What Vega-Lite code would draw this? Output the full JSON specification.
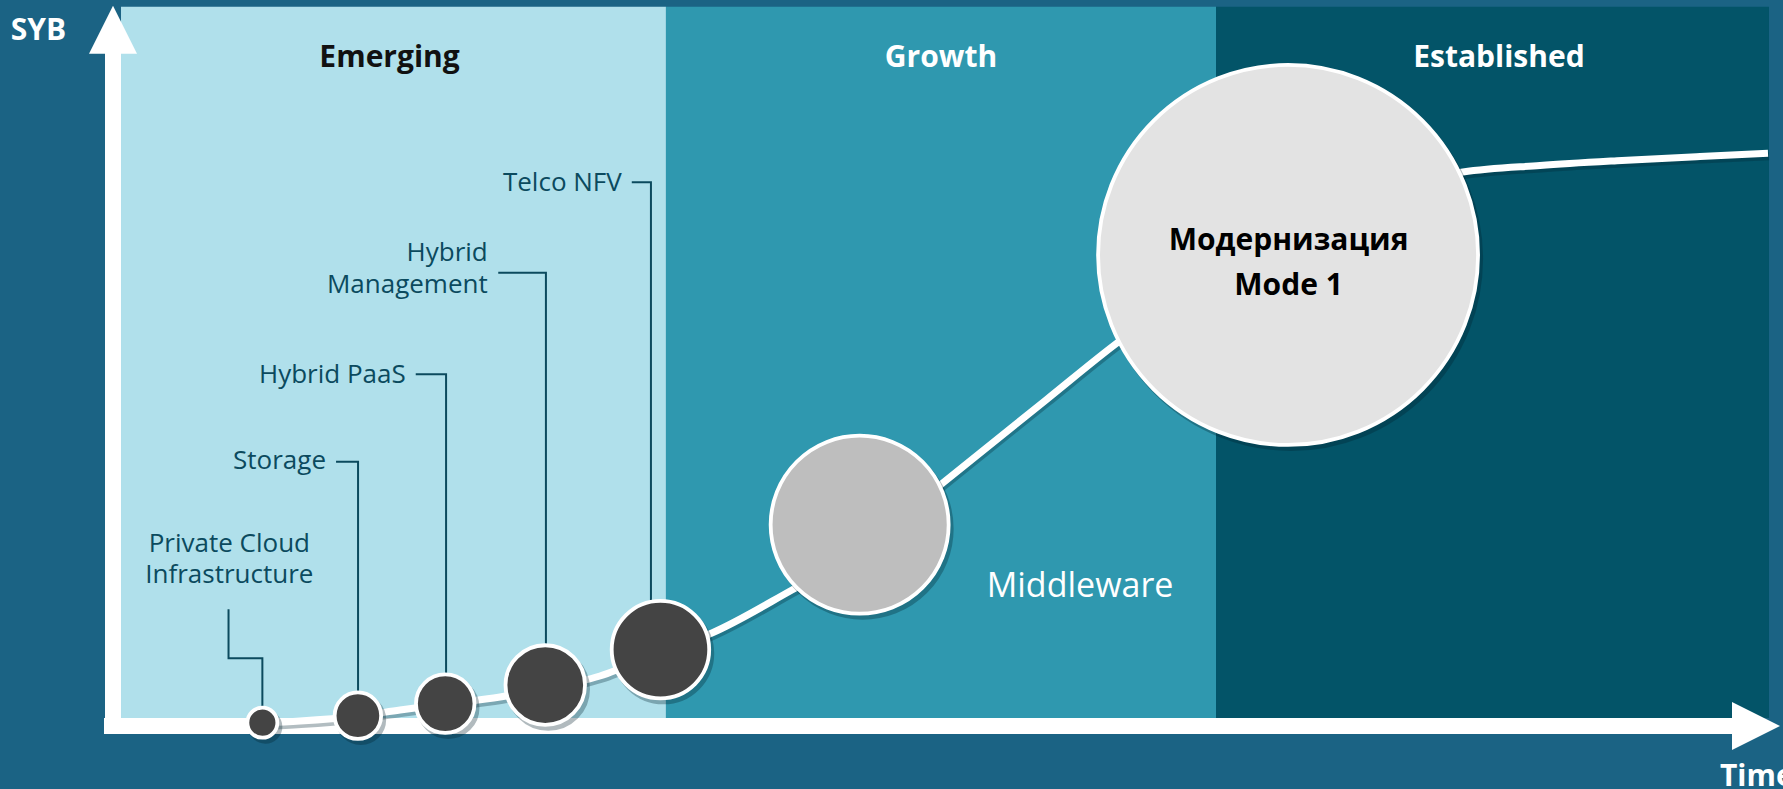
{
  "$schema": "https://vega.github.io/schema/vega-lite/v6.json",
  "width": 1783,
  "height": 789,
  "autosize": {"type": "none"},
  "padding": 0,
  "background": "#1b6384",
  "config": {"view": {"stroke": null}, "font": "Open Sans"},
  "datasets": {
    "panels": [
      {"stage": "Emerging", "t": 0.48, "t2": 33.17, "v": 99.9, "v2": 1.11},
      {"stage": "Growth", "t": 33.17, "t2": 66.17, "v": 99.9, "v2": 1.11},
      {"stage": "Established", "t": 66.17, "t2": 99.34, "v": 99.9, "v2": 1.11}
    ],
    "shafts": [
      {"axis": "SYB", "t": -0.48, "t2": 0.48, "v": 93.6, "v2": -1.11},
      {"axis": "Time", "t": -0.54, "t2": 97.3, "v": 1.11, "v2": -1.11}
    ],
    "arrows": [
      {"axis": "SYB", "t": 0, "v": 96.71},
      {"axis": "Time", "t": 98.56, "v": 0}
    ],
    "curve": [
      {"t": 8.94, "v": 0.42},
      {"t": 11.22, "v": 0.69},
      {"t": 14.7, "v": 1.39},
      {"t": 17.22, "v": 2.22},
      {"t": 19.92, "v": 3.06},
      {"t": 23.22, "v": 4.03},
      {"t": 25.92, "v": 5.14},
      {"t": 29.21, "v": 6.94},
      {"t": 32.87, "v": 10.28},
      {"t": 35.93, "v": 12.92},
      {"t": 40.73, "v": 18.89},
      {"t": 44.81, "v": 24.31},
      {"t": 49.85, "v": 33.89},
      {"t": 55.97, "v": 45.28},
      {"t": 60.23, "v": 53.19},
      {"t": 65.21, "v": 61.25},
      {"t": 70.61, "v": 69.58},
      {"t": 76.0, "v": 74.44},
      {"t": 80.98, "v": 76.94},
      {"t": 85.6, "v": 77.85},
      {"t": 90.22, "v": 78.51},
      {"t": 95.2, "v": 79.1},
      {"t": 99.28, "v": 79.54}
    ],
    "connectors": [
      {"id": "Private Cloud Infrastructure", "k": 0, "t": 6.93, "v": 16.21},
      {"id": "Private Cloud Infrastructure", "k": 1, "t": 6.93, "v": 9.4},
      {"id": "Private Cloud Infrastructure", "k": 2, "t": 8.96, "v": 9.4},
      {"id": "Private Cloud Infrastructure", "k": 3, "t": 8.96, "v": 2.78},
      {"id": "Storage", "k": 0, "t": 13.38, "v": 36.71},
      {"id": "Storage", "k": 1, "t": 14.7, "v": 36.71},
      {"id": "Storage", "k": 2, "t": 14.7, "v": 4.86},
      {"id": "Hybrid PaaS", "k": 0, "t": 18.16, "v": 48.85},
      {"id": "Hybrid PaaS", "k": 1, "t": 19.98, "v": 48.85},
      {"id": "Hybrid PaaS", "k": 2, "t": 19.98, "v": 7.36},
      {"id": "Hybrid Management", "k": 0, "t": 23.11, "v": 62.96},
      {"id": "Hybrid Management", "k": 1, "t": 25.97, "v": 62.96},
      {"id": "Hybrid Management", "k": 2, "t": 25.97, "v": 11.39},
      {"id": "Telco NFV", "k": 0, "t": 31.12, "v": 75.51},
      {"id": "Telco NFV", "k": 1, "t": 32.27, "v": 75.51},
      {"id": "Telco NFV", "k": 2, "t": 32.27, "v": 17.5}
    ],
    "bubbles": [
      {"name": "Private Cloud Infrastructure", "cat": "emerging", "t": 8.96, "v": 0.46, "d": 30},
      {"name": "Storage", "cat": "emerging", "t": 14.69, "v": 1.43, "d": 46.5},
      {"name": "Hybrid PaaS", "cat": "emerging", "t": 19.93, "v": 3.1, "d": 58.5},
      {"name": "Hybrid Management", "cat": "emerging", "t": 25.93, "v": 5.69, "d": 79.5},
      {"name": "Telco NFV", "cat": "emerging", "t": 32.84, "v": 10.61, "d": 97.5},
      {"name": "Middleware", "cat": "middleware", "t": 44.79, "v": 27.96, "d": 178},
      {"name": "Модернизация Mode 1", "cat": "modernization", "t": 70.49, "v": 65.42, "d": 380}
    ],
    "texts": [
      {"kind": "label", "label": "Telco NFV", "t": 30.52, "v": 74.35},
      {"kind": "label", "label": "Hybrid\nManagement", "t": 22.48, "v": 64.63},
      {"kind": "label", "label": "Hybrid PaaS", "t": 17.56, "v": 47.6},
      {"kind": "label", "label": "Storage", "t": 12.78, "v": 35.65},
      {"kind": "labelc", "label": "Private Cloud\nInfrastructure", "t": 6.98, "v": 24.13},
      {"kind": "title", "label": "Emerging", "t": 16.59, "v": 91.46},
      {"kind": "title", "label": "Growth", "t": 49.67, "v": 91.46},
      {"kind": "title", "label": "Established", "t": 83.14, "v": 91.46},
      {"kind": "axis", "label": "SYB", "t": -6.14, "v": 95.28},
      {"kind": "axis", "label": "Time", "t": 96.4, "v": -8.33},
      {"kind": "middleware", "label": "Middleware", "t": 58.01, "v": 17.92},
      {"kind": "mod", "label": "Модернизация\nMode 1", "t": 70.52, "v": 66.11}
    ]
  },
  "encoding": {
    "x": {"field": "t", "type": "quantitative", "scale": {"domain": [-6.779, 100.18], "nice": false, "zero": false}, "axis": null},
    "y": {"field": "v", "type": "quantitative", "scale": {"domain": [-8.75, 100.83], "nice": false, "zero": false}, "axis": null}
  },
  "layer": [
    {
      "data": {"name": "panels"},
      "mark": {"type": "rect"},
      "encoding": {
        "x2": {"field": "t2"},
        "y2": {"field": "v2"},
        "color": {"field": "stage", "type": "nominal", "scale": {"domain": ["Emerging", "Growth", "Established"], "range": ["#b0e0eb", "#2f98af", "#035468"]}, "legend": null}
      }
    },
    {
      "data": {"name": "shafts"},
      "mark": {"type": "rect", "color": "#ffffff"},
      "encoding": {"x2": {"field": "t2"}, "y2": {"field": "v2"}}
    },
    {
      "data": {"name": "arrows"},
      "transform": [{"filter": "datum.axis === 'SYB'"}],
      "mark": {"type": "point", "shape": "M0,-1L1,1L-1,1Z", "filled": true, "color": "#ffffff", "opacity": 1, "size": 2304, "strokeWidth": 0}
    },
    {
      "data": {"name": "arrows"},
      "transform": [{"filter": "datum.axis === 'Time'"}],
      "mark": {"type": "point", "shape": "M1,0L-1,-1L-1,1Z", "filled": true, "color": "#ffffff", "opacity": 1, "size": 2304, "strokeWidth": 0}
    },
    {
      "data": {"name": "curve"},
      "mark": {"type": "line", "color": "#002633", "strokeWidth": 8, "opacity": 0.3, "interpolate": "monotone", "xOffset": 1, "yOffset": 3}
    },
    {
      "data": {"name": "curve"},
      "mark": {"type": "line", "color": "#ffffff", "strokeWidth": 7, "interpolate": "monotone", "strokeCap": "butt"}
    },
    {
      "data": {"name": "connectors"},
      "mark": {"type": "line", "color": "#0b4a5e", "strokeWidth": 2, "interpolate": "linear"},
      "encoding": {
        "detail": {"field": "id", "type": "nominal"},
        "order": {"field": "k", "type": "quantitative"}
      }
    },
    {
      "data": {"name": "bubbles"},
      "mark": {"type": "circle", "color": "#001f2a", "opacity": 0.3, "stroke": "#001f2a", "strokeWidth": 4, "xOffset": 3, "yOffset": 4},
      "encoding": {
        "size": {"field": "d", "type": "quantitative", "scale": {"type": "pow", "exponent": 2, "domain": [0, 400], "range": [0, 160000]}, "legend": null}
      }
    },
    {
      "data": {"name": "bubbles"},
      "mark": {"type": "circle", "opacity": 1, "stroke": "#ffffff", "strokeWidth": 3.8},
      "encoding": {
        "size": {"field": "d", "type": "quantitative", "scale": {"type": "pow", "exponent": 2, "domain": [0, 400], "range": [0, 160000]}, "legend": null},
        "color": {"field": "cat", "type": "nominal", "scale": {"domain": ["emerging", "middleware", "modernization"], "range": ["#444444", "#bebebe", "#e3e3e3"]}, "legend": null}
      }
    },
    {
      "data": {"name": "texts"},
      "transform": [{"filter": "datum.kind === 'label'"}],
      "mark": {"type": "text", "align": "right", "baseline": "alphabetic", "fontSize": 26, "color": "#0b4a5e", "lineBreak": "\n", "lineHeight": 32},
      "encoding": {"text": {"field": "label"}}
    },
    {
      "data": {"name": "texts"},
      "transform": [{"filter": "datum.kind === 'labelc'"}],
      "mark": {"type": "text", "align": "center", "baseline": "alphabetic", "fontSize": 26, "color": "#0b4a5e", "lineBreak": "\n", "lineHeight": 31},
      "encoding": {"text": {"field": "label"}}
    },
    {
      "data": {"name": "texts"},
      "transform": [{"filter": "datum.kind === 'title'"}],
      "mark": {"type": "text", "align": "center", "baseline": "alphabetic", "fontSize": 30, "fontWeight": "bold"},
      "encoding": {
        "text": {"field": "label"},
        "color": {"field": "label", "type": "nominal", "scale": {"domain": ["Emerging", "Growth", "Established"], "range": ["#111111", "#ffffff", "#ffffff"]}, "legend": null}
      }
    },
    {
      "data": {"name": "texts"},
      "transform": [{"filter": "datum.kind === 'axis'"}],
      "mark": {"type": "text", "align": "left", "baseline": "alphabetic", "fontSize": 30, "fontWeight": "bold", "color": "#ffffff"},
      "encoding": {"text": {"field": "label"}}
    },
    {
      "data": {"name": "texts"},
      "transform": [{"filter": "datum.kind === 'middleware'"}],
      "mark": {"type": "text", "align": "center", "baseline": "alphabetic", "fontSize": 34, "color": "#ffffff"},
      "encoding": {"text": {"field": "label"}}
    },
    {
      "data": {"name": "texts"},
      "transform": [{"filter": "datum.kind === 'mod'"}],
      "mark": {"type": "text", "align": "center", "baseline": "alphabetic", "fontSize": 30, "fontWeight": "bold", "color": "#000000", "lineBreak": "\n", "lineHeight": 45},
      "encoding": {"text": {"field": "label"}}
    }
  ],
  "resolve": {"scale": {"color": "independent"}}
}
